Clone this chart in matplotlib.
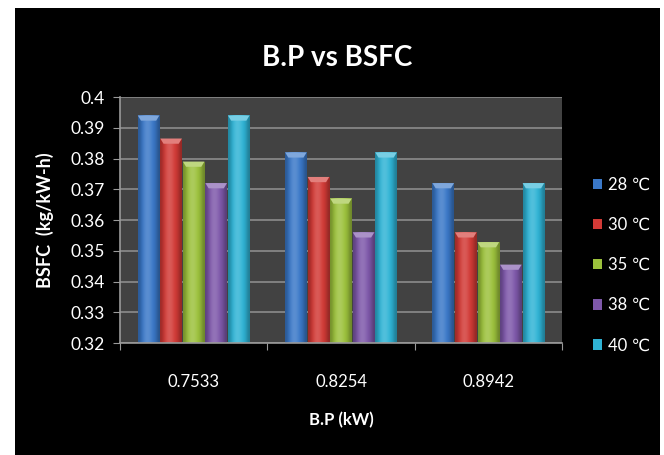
import matplotlib.pyplot as plt
import matplotlib.colors as mcolors
from matplotlib.patches import Rectangle, Polygon, Patch
import numpy as np

# BSFC (kg/kW-h) at each brake power, one series per ambient temperature
bp_labels = ['0.7533', '0.8254', '0.8942']
temps = ['28 ℃', '30 ℃', '35 ℃', '38 ℃', '40 ℃']
bsfc_28 = [0.394, 0.382, 0.372]
bsfc_30 = [0.3865, 0.374, 0.356]
bsfc_35 = [0.379, 0.367, 0.3528]
bsfc_38 = [0.372, 0.356, 0.3455]
bsfc_40 = [0.394, 0.382, 0.372]
series = [bsfc_28, bsfc_30, bsfc_35, bsfc_38, bsfc_40]
colors = ['#3a78c8', '#d23a36', '#9cc13c', '#7e58aa', '#2fb3d5']

font = ['Lato', 'DejaVu Sans']
plt.rcParams['font.family'] = font

fig = plt.figure(figsize=(6.64, 4.55), dpi=100, facecolor='white')
# black chart background with a thin white margin
fig.patches.append(Rectangle((15 / 664, 0), 645 / 664, 447 / 455,
                             transform=fig.transFigure, facecolor='black',
                             edgecolor='none', zorder=-5))

ax = fig.add_axes([120 / 664, 112 / 455, 442 / 664, 246 / 455])
ax.set_facecolor('#424242')

ymin, ymax = 0.32, 0.40
x = np.arange(len(bp_labels))
width = 0.153


def shade(c, f):
    r, g, b = mcolors.to_rgb(c)
    if f >= 0:
        return (r + (1 - r) * f, g + (1 - g) * f, b + (1 - b) * f)
    return (r * (1 + f), g * (1 + f), b * (1 + f))


for i, vals in enumerate(series):
    pos = x + (i - 2) * width
    bars = ax.bar(pos, np.array(vals) - ymin, width=width * 0.96, bottom=ymin,
                  color=colors[i], edgecolor='none', zorder=3)
    # horizontal gradient for a rounded look
    prof = np.array([-0.25, -0.05, 0.12, 0.18, 0.12, 0.0, -0.1, -0.3])
    grad = np.array([[shade(colors[i], f) for f in prof]])
    for b in bars:
        x0, w, h = b.get_x(), b.get_width(), b.get_y() + b.get_height()
        im = ax.imshow(grad, extent=[x0, x0 + w, ymin, h], aspect='auto',
                       interpolation='bicubic', zorder=4)
        im.set_clip_path(b)
        # light bevel along the top edge
        d = 0.0017
        ax.add_patch(Polygon([(x0, h), (x0 + w, h), (x0 + w * 0.85, h - d),
                              (x0 + w * 0.15, h - d)], closed=True,
                             facecolor=shade(colors[i], 0.35),
                             edgecolor='none', zorder=5))

ax.set_ylim(ymin, ymax)
ax.set_xlim(-0.5, len(bp_labels) - 0.5)
ax.set_yticks(np.arange(0.32, 0.4001, 0.01))
ax.set_yticklabels(['0.32', '0.33', '0.34', '0.35', '0.36', '0.37', '0.38',
                    '0.39', '0.4'])
ax.yaxis.grid(True, color='#8c8c8c', linewidth=1.2, zorder=1)
ax.set_axisbelow(True)

# category ticks sit between groups
ax.set_xticks(np.arange(-0.5, len(bp_labels), 1.0))
ax.set_xticklabels([])
ax.set_xticks(x, minor=True)
ax.set_xticklabels(bp_labels, minor=True)
ax.tick_params(axis='x', which='minor', length=0, pad=22, labelsize=12,
               labelcolor='white')
ax.tick_params(axis='x', which='major', length=5, color='#9a9a9a')
ax.tick_params(axis='y', length=5, color='#9a9a9a', labelsize=12.5,
               labelcolor='white', pad=6)

for s in ['top', 'right']:
    ax.spines[s].set_visible(False)
for s in ['left', 'bottom']:
    ax.spines[s].set_color('#9a9a9a')
    ax.spines[s].set_linewidth(1.2)
    ax.spines[s].set_zorder(6)

ax.set_xlabel('B.P (kW)', color='white', fontsize=12, fontweight='bold',
              labelpad=16)
ax.set_ylabel('BSFC  (kg/kW-h)', color='white', fontsize=13,
              fontweight='bold', labelpad=12)
fig.text(337 / 664, 1 - 58 / 455, 'B.P vs BSFC', color='white', fontsize=20,
         fontweight='bold', ha='center', va='center')

handles = [Patch(facecolor=c, edgecolor='none') for c in colors]
leg = fig.legend(handles, temps, loc='center left',
                 bbox_to_anchor=(578 / 664, 1 - 265 / 455), frameon=False,
                 labelcolor='white', handlelength=0.55,
                 handleheight=0.6, handletextpad=0.35, labelspacing=1.45,
                 prop={'family': font, 'size': 12})

fig.savefig('out.png', dpi=100, facecolor='white')
